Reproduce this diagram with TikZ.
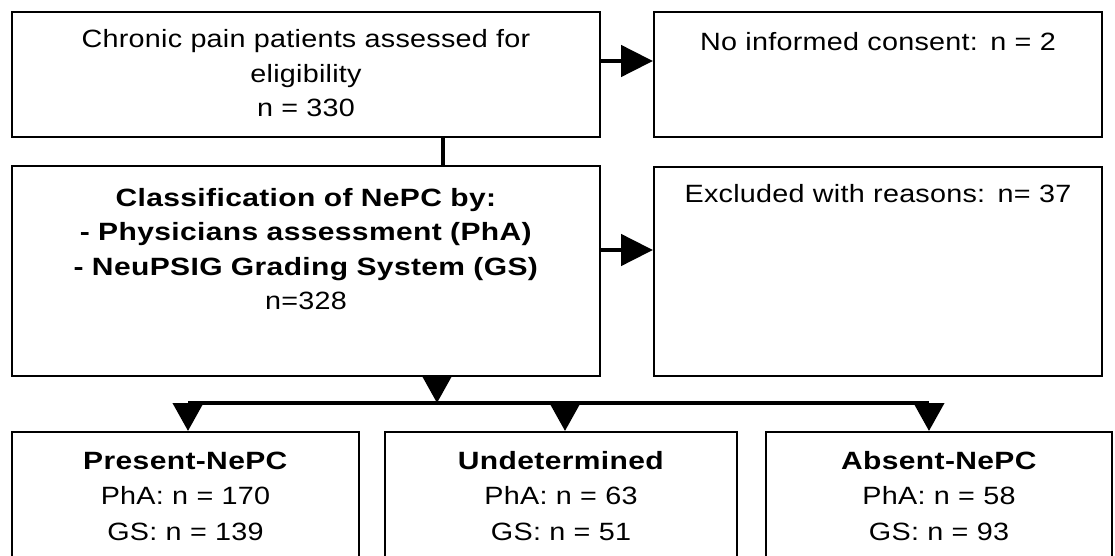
\documentclass[tikz,border=0pt]{standalone}
\usepackage{fontspec}
\setmainfont{Liberation Sans}[FakeStretch=1.15, LetterSpace=1,
                              BoldFeatures={FakeStretch=1.2, LetterSpace=1.5}]
\usetikzlibrary{arrows.meta}

\begin{document}
\begin{tikzpicture}[x=0.5pt, y=-0.5pt,
                    flowbox/.style={draw, line width=1pt, anchor=north west, align=center,
                                    inner sep=0pt, font=\fontsize{12.5}{17.25}\selectfont},
                    groupbox/.style={flowbox, text height=18.5pt, text depth=66pt,
                                     font=\fontsize{12.5}{17.75}\selectfont},
                    link/.style={line width=2pt},
                    sidearrow/.style={line width=2.4pt, -{Triangle[length=16pt, width=15.5pt]}},
                    downarrow/.style={line width=2pt, -{Triangle[length=14pt, width=15pt]}}]
    \clip (0,0) rectangle (1115,556);
    \node[flowbox, text width=294pt, text height=18pt, text depth=44.5pt] (assessed) at (11,11)
        {Chronic pain patients assessed for\\eligibility\\n = 330};
    \node[flowbox, text width=224pt, text height=19.5pt, text depth=43pt] (consent) at (653,11)
        {No informed consent: n = 2};
    \node[flowbox, text width=294pt, text height=20pt, text depth=85pt] (classify) at (11,165)
        {\textbf{Classification of NePC by:}\\\textbf{- Physicians assessment (PhA)}\\
         \textbf{- NeuPSIG Grading System (GS)}\\n=328};
    \node[flowbox, text width=224pt, text height=18pt, text depth=86.5pt] (excluded) at (653,166)
        {Excluded with reasons: n= 37};
    \node[groupbox, text width=173.5pt] (present) at (11,431)
        {\textbf{Present-NePC}\\PhA: n = 170\\GS: n = 139};
    \node[groupbox, text width=176pt] (undetermined) at (384,431)
        {\textbf{Undetermined}\\PhA: n = 63\\GS: n = 51};
    \node[groupbox, text width=173pt] (absent) at (765,431)
        {\textbf{Absent-NePC}\\PhA: n = 58\\GS: n = 93};

    \coordinate (linkx) at (443,0);
    \coordinate (toconsent) at (0,61);
    \coordinate (toexcluded) at (0,250);
    \coordinate (split) at (437,403);
    \coordinate (barL) at (188,403);
    \coordinate (barM) at (565,403);
    \coordinate (barR) at (929,403);

    \draw[link] (assessed.south -| linkx) -- (classify.north -| linkx);
    \draw[sidearrow] (assessed.east |- toconsent) -- (consent.west |- toconsent);
    \draw[sidearrow] (classify.east |- toexcluded) -- (excluded.west |- toexcluded);
    \draw[downarrow] (classify.south -| split) -- (split);
    \draw[link] (barL) -- (barR);
    \foreach \from/\to in {barL/present, barM/undetermined, barR/absent}
        \draw[downarrow] (\from) -- (\from |- \to.north);
\end{tikzpicture}
\end{document}
